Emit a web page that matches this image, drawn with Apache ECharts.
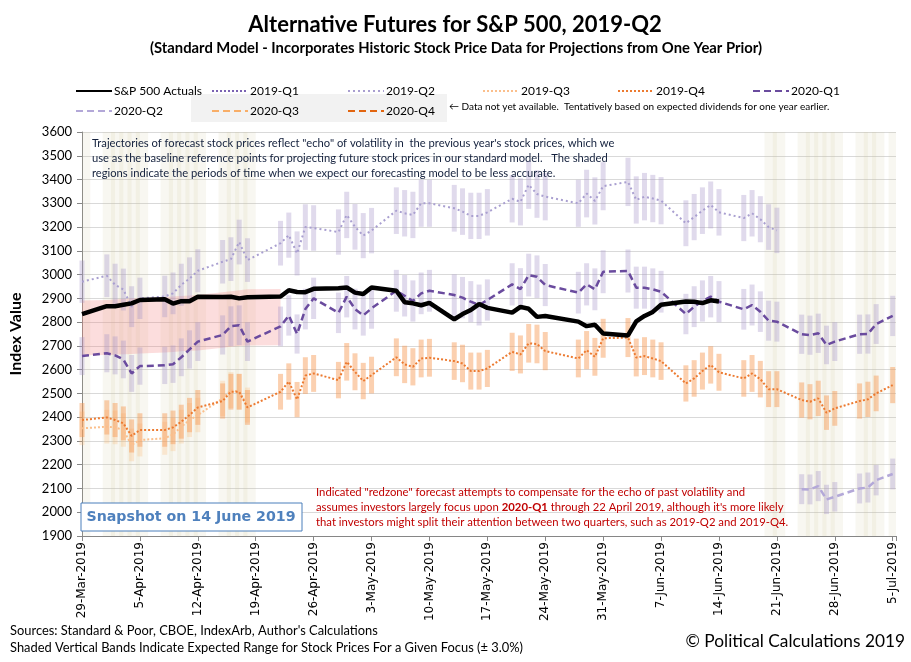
<!DOCTYPE html>
<html>
<head>
<meta charset="utf-8">
<script src="https://cdn.jsdelivr.net/npm/echarts@6/dist/echarts.min.js"></script>
<style>
    html, body { margin: 0; padding: 0; background: #fff; }
    #chart { width: 911px; height: 662px; }
</style>
</head>
<body>
<div id="chart"></div>
<script>
// trading days shown on the chart
var tradeDates = [
    '2019-03-29',
    '2019-04-01', '2019-04-02', '2019-04-03', '2019-04-04', '2019-04-05',
    '2019-04-08', '2019-04-09', '2019-04-10', '2019-04-11', '2019-04-12',
    '2019-04-15', '2019-04-16', '2019-04-17', '2019-04-18',
    '2019-04-22', '2019-04-23', '2019-04-24', '2019-04-25', '2019-04-26',
    '2019-04-29', '2019-04-30', '2019-05-01', '2019-05-02', '2019-05-03',
    '2019-05-06', '2019-05-07', '2019-05-08', '2019-05-09', '2019-05-10',
    '2019-05-13', '2019-05-14', '2019-05-15', '2019-05-16', '2019-05-17',
    '2019-05-20', '2019-05-21', '2019-05-22', '2019-05-23', '2019-05-24',
    '2019-05-28', '2019-05-29', '2019-05-30', '2019-05-31',
    '2019-06-03', '2019-06-04', '2019-06-05', '2019-06-06', '2019-06-07',
    '2019-06-10', '2019-06-11', '2019-06-12', '2019-06-13', '2019-06-14',
    '2019-06-17', '2019-06-18', '2019-06-19', '2019-06-20', '2019-06-21',
    '2019-06-24', '2019-06-25', '2019-06-26', '2019-06-27', '2019-06-28',
    '2019-07-01', '2019-07-02', '2019-07-03', '2019-07-05'
];

var actuals = [
    2834, 2867, 2867, 2873, 2879, 2893,
    2896, 2878, 2888, 2888, 2907,
    2906, 2907, 2900, 2905,
    2908, 2934, 2927, 2926, 2940,
    2943, 2946, 2924, 2918, 2946,
    2932, 2884, 2879, 2871, 2881,
    2812, 2834, 2851, 2876, 2860,
    2840, 2864, 2856, 2822, 2826,
    2802, 2783, 2789, 2752,
    2744, 2803, 2826, 2843, 2873,
    2887, 2886, 2880, 2892, 2887,
    null, null, null, null, null,
    null, null, null, null, null,
    null, null, null, null
];

var q2019Q2 = [
    2970,
    2995, 2957, 2937, 2865, 2900,
    2908, 2921, 2957, 2983, 3016,
    3054, 3065, 3137, 3061,
    3132, 3166, 3089, 3200, 3196,
    3179, 3251, 3201, 3164, 3185,
    3269, 3258, 3251, 3300, 3300,
    3279, 3265, 3247, 3247, 3262,
    3319, 3306, 3378, 3339, 3328,
    3300, 3341, 3310, 3372,
    3390, 3314, 3328, 3320, 3311,
    3216, 3242, 3269, 3293, 3262,
    3238, 3258, 3233, 3200, 3186,
    null, null, null, null, null,
    null, null, null, null
];

var q2019Q3 = [
    2353,
    2360, 2357, 2346, 2283, 2304,
    2311, 2327, 2360, 2388, 2409,
    2479, 2514, 2507, 2451,
    null, null, null, null, null,
    null, null, null, null, null,
    null, null, null, null, null,
    null, null, null, null, null,
    null, null, null, null, null,
    null, null, null, null,
    null, null, null, null, null,
    null, null, null, null, null,
    null, null, null, null, null,
    null, null, null, null, null,
    null, null, null, null
];

var q2019Q4 = [
    2388,
    2399, 2388, 2374, 2321, 2346,
    2346, 2357, 2381, 2409, 2441,
    2468, 2507, 2507, 2441,
    2507, 2550, 2474, 2575, 2584,
    2556, 2633, 2591, 2552, 2577,
    2652, 2622, 2612, 2647, 2650,
    2636, 2626, 2594, 2594, 2605,
    2675, 2664, 2711, 2708, 2678,
    2647, 2682, 2654, 2732,
    2735, 2651, 2657, 2647, 2636,
    2542, 2563, 2594, 2620, 2589,
    2563, 2584, 2560, 2518, 2518,
    2472, 2465, 2479, 2419, 2437,
    2468, 2475, 2500, 2535
];

var q2020Q1 = [
    2657,
    2669, 2660, 2643, 2584, 2615,
    2618, 2623, 2652, 2685, 2718,
    2746, 2783, 2787, 2718,
    2782, 2828, 2750, 2855, 2900,
    2839, 2907, 2855, 2828, 2858,
    2932, 2911, 2889, 2921, 2932,
    2914, 2903, 2886, 2872, 2893,
    2959, 2939, 2998, 2991, 2956,
    2924, 2959, 2938, 3012,
    3015, 2945, 2945, 2938, 2928,
    2834, 2865, 2889, 2907, 2886,
    2854, 2872, 2844, 2806, 2802,
    2749, 2745, 2753, 2704, 2718,
    2749, 2750, 2792, 2826
];

var q2020Q2 = [
    null,
    null, null, null, null, null,
    null, null, null, null, null,
    null, null, null, null,
    null, null, null, null, null,
    null, null, null, null, null,
    null, null, null, null, null,
    null, null, null, null, null,
    null, null, null, null, null,
    null, null, null, null,
    null, null, null, null, null,
    null, null, null, null, null,
    null, null, null, null, null,
    2097, 2096, 2110, 2054, 2065,
    2100, 2104, 2135, 2161
];

// "redzone" range (focus on 2020-Q1 through 22 April 2019)
var redDates = [
    '2019-03-29', '2019-04-01', '2019-04-02', '2019-04-03', '2019-04-04', '2019-04-05',
    '2019-04-08', '2019-04-09', '2019-04-10', '2019-04-11', '2019-04-12',
    '2019-04-15', '2019-04-16', '2019-04-17', '2019-04-18', '2019-04-22'
];
var redLow = [2661, 2662, 2663, 2665, 2666, 2668, 2672, 2674, 2677, 2679, 2681, 2692, 2696, 2699, 2702, 2703];
var redHigh = [2891, 2893, 2895, 2897, 2899, 2901, 2906, 2908, 2910, 2912, 2914, 2926, 2930, 2934, 2938, 2939];

// periods when the model is expected to be less accurate
var shadedDates = [
    '2019-03-29', '2019-04-01', '2019-04-02', '2019-04-03', '2019-04-04', '2019-04-05',
    '2019-04-08', '2019-04-09', '2019-04-10', '2019-04-11', '2019-04-12',
    '2019-04-15', '2019-04-16', '2019-04-17', '2019-04-18',
    '2019-06-20', '2019-06-21',
    '2019-06-24', '2019-06-25', '2019-06-26', '2019-06-27', '2019-06-28',
    '2019-07-01', '2019-07-02', '2019-07-03', '2019-07-05'
];

var monthNames = ['Jan', 'Feb', 'Mar', 'Apr', 'May', 'Jun', 'Jul', 'Aug', 'Sep', 'Oct', 'Nov', 'Dec'];
var bandPct = 0.03;

var FONT = 'Lato, "Open Sans", sans-serif';
var baseTime = Date.parse('2019-03-29');

function dayX(d) {
    return (Date.parse(d) - baseTime) / 86400000;
}

function pairs(values) {
    var out = [];
    for (var i = 0; i < tradeDates.length; i++) {
        if (values[i] != null) {
            out.push([dayX(tradeDates[i]), values[i]]);
        }
    }
    return out;
}

// vertical band = expected range (+/- 3%) around each forecast point
function bandSeries(name, values, color, z) {
    return {
        name: name,
        type: 'custom',
        z: z,
        silent: true,
        data: pairs(values),
        renderItem: function (params, api) {
            var x = api.value(0), v = api.value(1);
            var top = api.coord([x, v * (1 + bandPct)]);
            var bot = api.coord([x, v * (1 - bandPct)]);
            return {
                type: 'rect',
                shape: {x: top[0] - 2.5, y: top[1], width: 5, height: bot[1] - top[1]},
                style: {fill: color}
            };
        }
    };
}

function lineSeries(name, values, color, width, dash, z) {
    return {
        name: name,
        type: 'line',
        z: z,
        data: pairs(values),
        symbol: 'none',
        lineStyle: {color: color, width: width, type: dash},
        itemStyle: {color: color}
    };
}

var chart = echarts.init(document.getElementById('chart'));

var legendPos = [
    ['S&P 500 Actuals', 70, 80],
    ['2019-Q1', 206, 80],
    ['2019-Q2', 342, 80],
    ['2019-Q3', 477, 80],
    ['2019-Q4', 612, 80],
    ['2020-Q1', 747, 80],
    ['2020-Q2', 70, 100],
    ['2020-Q3', 206, 100],
    ['2020-Q4', 342, 100]
];

var option = {
    animation: false,
    backgroundColor: '#fff',
    grid: {left: 78, right: 15, top: 132, bottom: 126},
    legend: legendPos.map(function (p) {
        return {
            data: [p[0]],
            left: p[1],
            top: p[2],
            itemWidth: 36,
            itemHeight: 14,
            itemGap: 0,
            selectedMode: false,
            itemStyle: {opacity: 0},
            textStyle: {fontFamily: FONT, fontSize: 12, color: '#000', padding: [0, 0, 0, -3]}
        };
    }),
    xAxis: {
        type: 'value',
        min: 0,
        max: 98.4,
        interval: 7,
        axisLine: {lineStyle: {color: '#868686'}},
        axisTick: {show: true, length: 5, lineStyle: {color: '#868686'}},
        splitLine: {show: false},
        axisLabel: {
            rotate: 90,
            fontFamily: 'DejaVu Sans',
            fontSize: 12,
            color: '#000',
            margin: 6,
            formatter: function (v) {
                if (Math.abs(v % 7) > 0.001) {
                    return '';
                }
                var d = new Date(baseTime + v * 86400000);
                return d.getUTCDate() + '-' + monthNames[d.getUTCMonth()] + '-' + d.getUTCFullYear();
            }
        }
    },
    yAxis: {
        type: 'value',
        min: 1900,
        max: 3600,
        interval: 100,
        name: 'Index Value',
        nameLocation: 'middle',
        nameRotate: 90,
        nameGap: 58,
        nameTextStyle: {fontFamily: FONT, fontSize: 16, fontWeight: 'bold', color: '#000'},
        axisLine: {show: true, lineStyle: {color: '#868686'}},
        axisTick: {show: true, length: 5, lineStyle: {color: '#868686'}},
        splitLine: {lineStyle: {color: '#d9d9d9'}},
        axisLabel: {
            fontFamily: FONT, fontSize: 13, color: '#000', margin: 10,
            formatter: function (v) { return String(v); }
        }
    },
    series: [
        {
            name: 'shade',
            type: 'custom',
            z: 1,
            silent: true,
            data: shadedDates.map(function (d) { return [dayX(d), 1900]; }),
            renderItem: function (params, api) {
                var cs = params.coordSys;
                var d = api.value(0);
                var l = Math.max(api.coord([d - 0.5, 3600])[0], cs.x);
                var r = Math.min(api.coord([d + 1, 3600])[0], cs.x + cs.width);
                return {
                    type: 'rect',
                    shape: {x: l, y: cs.y, width: r - l, height: cs.height},
                    style: {fill: 'rgba(200,190,150,0.13)'}
                };
            }
        },
        {
            name: 'redzone',
            type: 'custom',
            z: 2,
            silent: true,
            data: [[0, redLow[0]]],
            renderItem: function (params, api) {
                var pts = [];
                var i;
                for (i = 0; i < redDates.length; i++) {
                    pts.push(api.coord([dayX(redDates[i]), redHigh[i]]));
                }
                for (i = redDates.length - 1; i >= 0; i--) {
                    pts.push(api.coord([dayX(redDates[i]), redLow[i]]));
                }
                return {
                    type: 'polygon',
                    shape: {points: pts},
                    style: {fill: 'rgba(245,120,120,0.25)'}
                };
            }
        },
        bandSeries('band-2019-Q3', q2019Q3, 'rgba(250,185,120,0.28)', 3),
        bandSeries('band-2019-Q4', q2019Q4, 'rgba(246,150,80,0.45)', 3),
        bandSeries('band-2020-Q2', q2020Q2, 'rgba(165,150,200,0.35)', 3),
        bandSeries('band-2019-Q2', q2019Q2, 'rgba(165,150,200,0.35)', 3),
        bandSeries('band-2020-Q1', q2020Q1, 'rgba(165,150,200,0.35)', 3),
        lineSeries('2019-Q1', [], '#7b63b3', 2, [2, 2], 5),
        lineSeries('2019-Q3', q2019Q3, '#fbbf8c', 2, [2, 2], 5),
        lineSeries('2019-Q4', q2019Q4, '#ec7a30', 2, [2, 2], 6),
        lineSeries('2020-Q2', q2020Q2, '#b3a8d8', 2.5, [7, 4], 6),
        lineSeries('2020-Q3', [], '#f8ae68', 2.5, [7, 4], 6),
        lineSeries('2020-Q4', [], '#e2650f', 2.5, [7, 4], 6),
        lineSeries('2019-Q2', q2019Q2, '#a99fd0', 2, [2, 3], 7),
        lineSeries('2020-Q1', q2020Q1, '#6a4b9e', 2.5, [7, 4], 8),
        lineSeries('S&P 500 Actuals', actuals, '#000', 4.5, 'solid', 10)
    ],
    graphic: [
        {type: 'rect', z: 0, shape: {x: 191, y: 94, width: 256, height: 28}, style: {fill: '#f2f2f2'}},
        {type: 'text', style: {text: 'Alternative Futures for S&P 500, 2019-Q2', x: 455, y: 25, textAlign: 'center', textVerticalAlign: 'middle', font: 'bold 22px ' + FONT, fill: '#000'}},
        {type: 'text', style: {text: '(Standard Model - Incorporates Historic Stock Price Data for Projections from One Year Prior)', x: 456, y: 48, textAlign: 'center', textVerticalAlign: 'middle', font: 'bold 14.8px ' + FONT, fill: '#000'}},
        {type: 'text', style: {text: '\u2190 Data not yet available.  Tentatively based on expected dividends for one year earlier.', x: 449, y: 107, textVerticalAlign: 'middle', font: '10px ' + FONT, fill: '#000'}},
        {type: 'text', z: 20, style: {
            text: 'Trajectories of forecast stock prices reflect "echo" of volatility in  the previous year\'s stock prices, which we\n' +
                'use as the baseline reference points for projecting future stock prices in our standard model.   The shaded\n' +
                'regions indicate the periods of time when we expect our forecasting model to be less accurate.',
            x: 92, y: 136, lineHeight: 15, font: '11.2px ' + FONT, fill: '#14213d'
        }},
        {type: 'text', z: 20, style: {
            text: 'Indicated "redzone" forecast attempts to compensate for the echo of past volatility and\n' +
                'assumes investors largely focus upon {b|2020-Q1} through 22 April 2019, although it\'s more likely\n' +
                'that investors might split their attention between two quarters, such as 2019-Q2 and 2019-Q4.',
            x: 316, y: 485, lineHeight: 15, font: '11.3px ' + FONT, fill: '#c00000',
            rich: {b: {fontWeight: 'bold', fontSize: 11.3, fontFamily: FONT, fill: '#c00000', lineHeight: 15}}
        }},
        {type: 'rect', z: 20, shape: {x: 81, y: 503, width: 221, height: 28}, style: {fill: '#fff', stroke: '#4a7ebb', lineWidth: 1}},
        {type: 'text', z: 21, style: {text: 'Snapshot on 14 June 2019', x: 191, y: 517, textAlign: 'center', textVerticalAlign: 'middle', font: 'bold 14.2px "DejaVu Sans"', fill: '#4f81bd'}},
        {type: 'text', style: {text: 'Sources: Standard & Poor, CBOE, IndexArb, Author\'s Calculations', x: 10, y: 631, textVerticalAlign: 'middle', font: '12.9px ' + FONT, fill: '#000'}},
        {type: 'text', style: {text: 'Shaded Vertical Bands Indicate Expected Range for Stock Prices For a Given Focus (\u00b1 3.0%)', x: 10, y: 648, textVerticalAlign: 'middle', font: '12.9px ' + FONT, fill: '#000'}},
        {type: 'text', style: {text: '\u00a9 Political Calculations 2019', x: 905, y: 641, textAlign: 'right', textVerticalAlign: 'middle', font: '17.3px ' + FONT, fill: '#000'}}
    ]
};

chart.setOption(option);
</script>
</body>
</html>
